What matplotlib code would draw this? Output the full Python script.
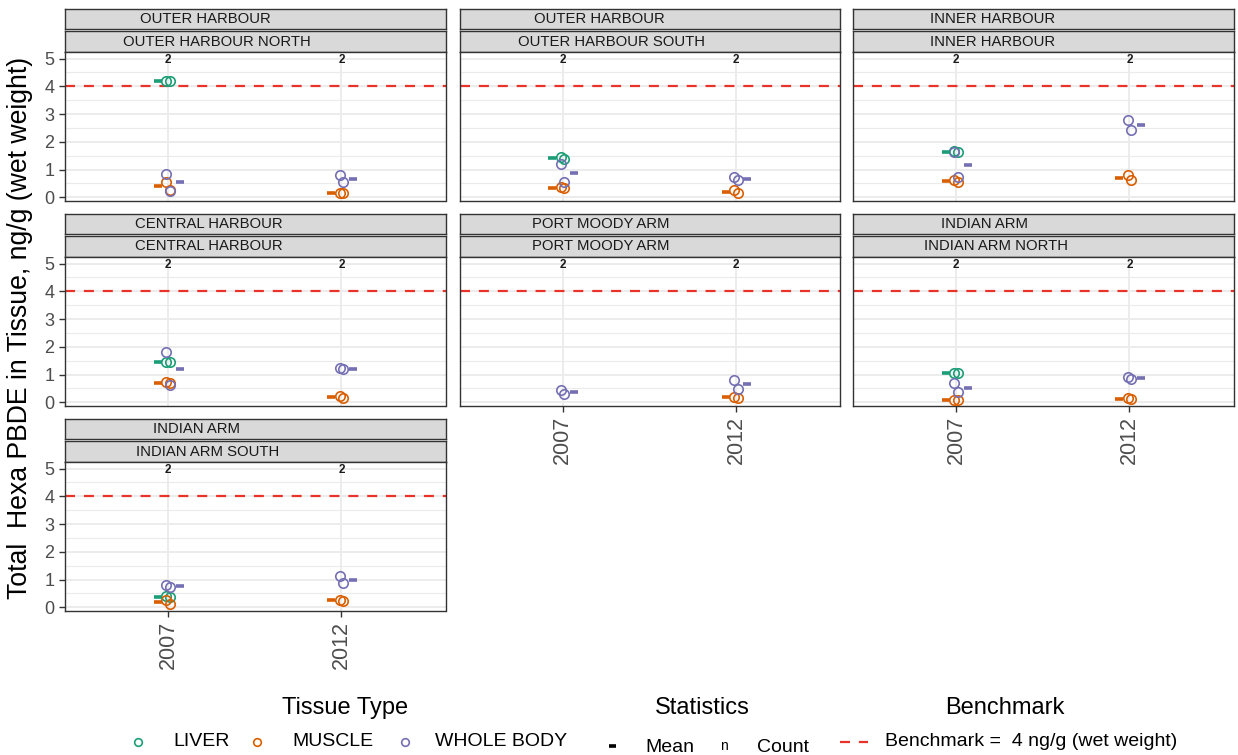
import numpy as np
import matplotlib
matplotlib.use("Agg")
from matplotlib import pyplot as plt
from matplotlib.lines import Line2D

plt.rcParams["font.family"] = ["Liberation Sans", "DejaVu Sans"]

# --- data ---
years = ["2007", "2012"]
region_labels = ["OUTER HARBOUR", "OUTER HARBOUR", "INNER HARBOUR", "CENTRAL HARBOUR",
                 "PORT MOODY ARM", "INDIAN ARM", "INDIAN ARM"]
site_labels = ["OUTER HARBOUR NORTH", "OUTER HARBOUR SOUTH", "INNER HARBOUR", "CENTRAL HARBOUR",
               "PORT MOODY ARM", "INDIAN ARM NORTH", "INDIAN ARM SOUTH"]

# per site: [values 2007, values 2012]
liver = [
    [[4.21, 4.18], []],
    [[1.45, 1.40], []],
    [[1.66, 1.63], []],
    [[1.47, 1.45], []],
    [[], []],
    [[1.06, 1.05], []],
    [[0.40, 0.36], []],
]
muscle = [
    [[0.55, 0.28], [0.16, 0.14]],
    [[0.37, 0.33], [0.26, 0.14]],
    [[0.64, 0.57], [0.80, 0.62]],
    [[0.72, 0.68], [0.22, 0.17]],
    [[], [0.19, 0.17]],
    [[0.10, 0.08], [0.14, 0.12]],
    [[0.28, 0.13], [0.26, 0.24]],
]
whole_body = [
    [[0.84, 0.24], [0.80, 0.54]],
    [[1.20, 0.54], [0.73, 0.62]],
    [[1.62, 0.74], [2.77, 2.43]],
    [[1.81, 0.63], [1.23, 1.21]],
    [[0.44, 0.31], [0.82, 0.47]],
    [[0.70, 0.36], [0.91, 0.85]],
    [[0.82, 0.72], [1.14, 0.86]],
]
counts = [[2, 2], [2, 2], [2, 2], [2, 2], [2, 2], [2, 2], [2, 2]]
benchmark = 4

tissues = ["LIVER", "MUSCLE", "WHOLE BODY"]
tissue_data = [liver, muscle, whole_body]
tissue_colors = ["#1B9E77", "#D95F02", "#7570B3"]
mean_offset = [-0.06, -0.06, 0.066]
bench_color = "#E8322A"

W, H = 1238, 755
fig = plt.figure(figsize=(W / 100, H / 100), dpi=100)


def fx(x):
    return x / W


def fy(y):
    return 1 - y / H


col_left = [65, 459.5, 853]
col_width = 380.5
row_top = [8.5, 213.5, 418.5]
strip_h = 20.8
strip_gap = 1.8
panel_h = 148.5

# panel index -> (row, col)
positions = [(0, 0), (0, 1), (0, 2), (1, 0), (1, 1), (1, 2), (2, 0)]
bottom_panels = {6, 4, 5}

strip_texts = []
for i, (r, c) in enumerate(positions):
    left = col_left[c]
    top = row_top[r]
    # two stacked strips
    for k, lab in enumerate([region_labels[i], site_labels[i]]):
        st = top + k * (strip_h + strip_gap)
        sax = fig.add_axes([fx(left), fy(st + strip_h), col_width / W, strip_h / H])
        sax.set_facecolor("#D9D9D9")
        sax.set_xticks([])
        sax.set_yticks([])
        for sp in sax.spines.values():
            sp.set_color("#333333")
            sp.set_linewidth(1.0)
        t = sax.text(0, 0.5, lab, transform=sax.transAxes, ha="left", va="center",
                     fontsize=10.7, color="#1A1A1A")
        strip_texts.append((sax, t))

    ptop = top + 2 * strip_h + strip_gap + 0.3
    ax = fig.add_axes([fx(left), fy(ptop + panel_h), col_width / W, panel_h / H])
    ax.set_xlim(0.405, 2.6)
    ax.set_ylim(-0.12, 5.23)
    ax.set_axisbelow(True)
    ax.set_yticks(range(0, 6))
    ax.set_yticks(np.arange(0.5, 5.5, 1.0), minor=True)
    ax.set_xticks([1, 2])
    ax.grid(True, which="major", color="#EBEBEB", linewidth=1.3)
    ax.grid(True, which="minor", axis="y", color="#EBEBEB", linewidth=0.8)
    for sp in ax.spines.values():
        sp.set_color("#333333")
        sp.set_linewidth(1.0)
    ax.tick_params(which="minor", length=0)
    ax.tick_params(axis="both", colors="#333333", length=4, width=1.0, labelcolor="#4D4D4D")
    if c == 0:
        ax.set_yticklabels([str(v) for v in range(0, 6)], fontsize=13)
    else:
        ax.tick_params(axis="y", length=0, labelleft=False)
    if i in bottom_panels:
        ax.set_xticklabels(years, rotation=90, fontsize=15.5)
    else:
        ax.tick_params(axis="x", length=0, labelbottom=False)

    ax.axhline(benchmark, color=bench_color, linestyle=(0, (4.5, 4)), linewidth=1.6, zorder=2)

    for j in range(2):
        xc = j + 1
        for tdat, col, off in zip(tissue_data, tissue_colors, mean_offset):
            vals = tdat[i][j]
            if not vals:
                continue
            jit = np.linspace(-0.01, 0.01, len(vals)) if len(vals) > 1 else [0.0]
            ax.plot(xc + np.asarray(jit), vals, linestyle="none", marker="o", ms=6.8,
                    mfc="none", mec=col, mew=1.2, zorder=3)
            ax.plot([xc + off], [np.mean(vals)], linestyle="none", marker="_", ms=5.2,
                    mew=2.6, color=col, zorder=4)
        ax.text(xc, 4.94, str(counts[i][j]), ha="center", va="center", fontsize=8.5,
                fontweight="bold", color="#1A1A1A")

fig.text(fx(20), fy(328), "Total  Hexa PBDE in Tissue, ng/g (wet weight)", rotation=90,
         ha="center", va="center", fontsize=19.2, color="black")

# --- legends drawn in figure space ---
fig.text(fx(345), fy(708), "Tissue Type", ha="center", va="center", fontsize=17)
fig.text(fx(702), fy(708), "Statistics", ha="center", va="center", fontsize=17)
fig.text(fx(1005), fy(708), "Benchmark", ha="center", va="center", fontsize=17)

mk_x = [138, 257, 405]
lab_x = [173, 292, 435]
for name, col, mx, lx in zip(tissues, tissue_colors, mk_x, lab_x):
    fig.add_artist(Line2D([fx(mx)], [fy(742)], transform=fig.transFigure, marker="o",
                          ms=5.5, mfc="none", mec=col, mew=1.2, linestyle="none"))
    fig.text(fx(lx), fy(742), name, ha="left", va="center", fontsize=14)

fig.add_artist(Line2D([fx(609), fx(616)], [fy(746), fy(746)], transform=fig.transFigure,
                      color="black", linewidth=2.6, solid_capstyle="butt"))
fig.text(fx(645), fy(748), "Mean", ha="left", va="center", fontsize=14)
fig.text(fx(724), fy(746), "n", ha="center", va="center", fontsize=10)
fig.text(fx(757), fy(748), "Count", ha="left", va="center", fontsize=14)

fig.add_artist(Line2D([fx(840), fx(868)], [fy(742), fy(742)], transform=fig.transFigure,
                      color=bench_color, linestyle=(0, (4.5, 4)), linewidth=1.6))
fig.text(fx(885), fy(742), "Benchmark =  4 ng/g (wet weight)", ha="left", va="center", fontsize=14)

# strip labels sit at hjust ~0.3 like the original facets
fig.canvas.draw()
renderer = fig.canvas.get_renderer()
for sax, t in strip_texts:
    tw = t.get_window_extent(renderer).width
    aw = sax.get_window_extent(renderer).width
    t.set_x(0.3 * (1 - tw / aw))

fig.savefig("out.png", dpi=100)
